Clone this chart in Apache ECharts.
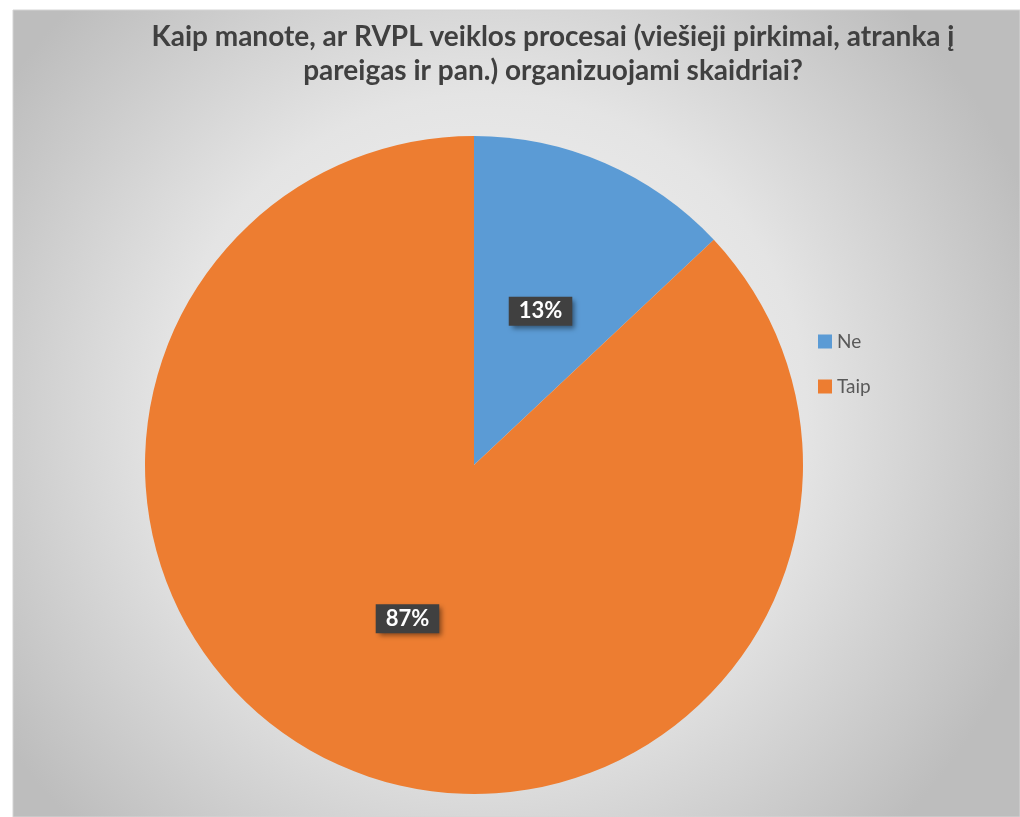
<!DOCTYPE html>
<html>
<head>
<meta charset="utf-8">
<script src="https://cdn.jsdelivr.net/npm/echarts@6/dist/echarts.min.js"></script>
<style>
html,body{margin:0;padding:0;background:#fff;}
#chart{width:1020px;height:817px;}
</style>
</head>
<body>
<div id="chart"></div>
<script>
const titleText = 'Kaip manote, ar RVPL veiklos procesai (viešieji pirkimai, atranka į\npareigas ir pan.) organizuojami skaidriai?';
const categories = ['Ne', 'Taip'];
const values = [13, 87];
const colors = ['#5B9BD5', '#ED7D31'];

const chart = echarts.init(document.getElementById('chart'));
chart.setOption({
  animation: false,
  color: colors,
  graphic: [{
    type: 'rect',
    z: -10,
    silent: true,
    shape: { x: 13, y: 10, width: 1007, height: 807 },
    style: {
      fill: {
        type: 'radial', x: 0.47, y: 0.5, r: 0.72,
        colorStops: [
          { offset: 0, color: '#f6f6f6' },
          { offset: 0.55, color: '#e4e4e4' },
          { offset: 1, color: '#bdbdbd' }
        ]
      },
      stroke: '#d4d4d4',
      lineWidth: 1
    }
  }],
  title: {
    text: titleText,
    left: 548,
    top: 15,
    textAlign: 'center',
    textStyle: {
      fontFamily: 'Lato',
      fontWeight: 'bold',
      fontSize: 28,
      lineHeight: 34,
      color: '#404040'
    }
  },
  legend: {
    orient: 'vertical',
    left: 813,
    top: 327,
    itemWidth: 14,
    itemHeight: 14,
    itemGap: 26,
    icon: 'rect',
    data: categories,
    textStyle: {
      fontFamily: 'Lato',
      fontSize: 19,
      color: '#595959'
    }
  },
  series: [{
    type: 'pie',
    center: [474, 465],
    radius: 329,
    startAngle: 90,
    clockwise: true,
    data: categories.map((c, i) => ({ name: c, value: values[i] })),
    label: {
      show: true,
      position: 'inside',
      formatter: p => Math.round(p.percent) + '%',
      fontFamily: 'Lato',
      fontWeight: 'bold',
      fontSize: 22,
      color: '#ffffff',
      backgroundColor: '#404040',
      padding: [4, 10, 3, 10],
      shadowColor: 'rgba(0,0,0,0.45)',
      shadowBlur: 5,
      shadowOffsetX: 3,
      shadowOffsetY: 3
    },
    labelLine: { show: false },
    emphasis: { disabled: true },
    itemStyle: { borderWidth: 0 }
  }]
});
</script>
</body>
</html>
